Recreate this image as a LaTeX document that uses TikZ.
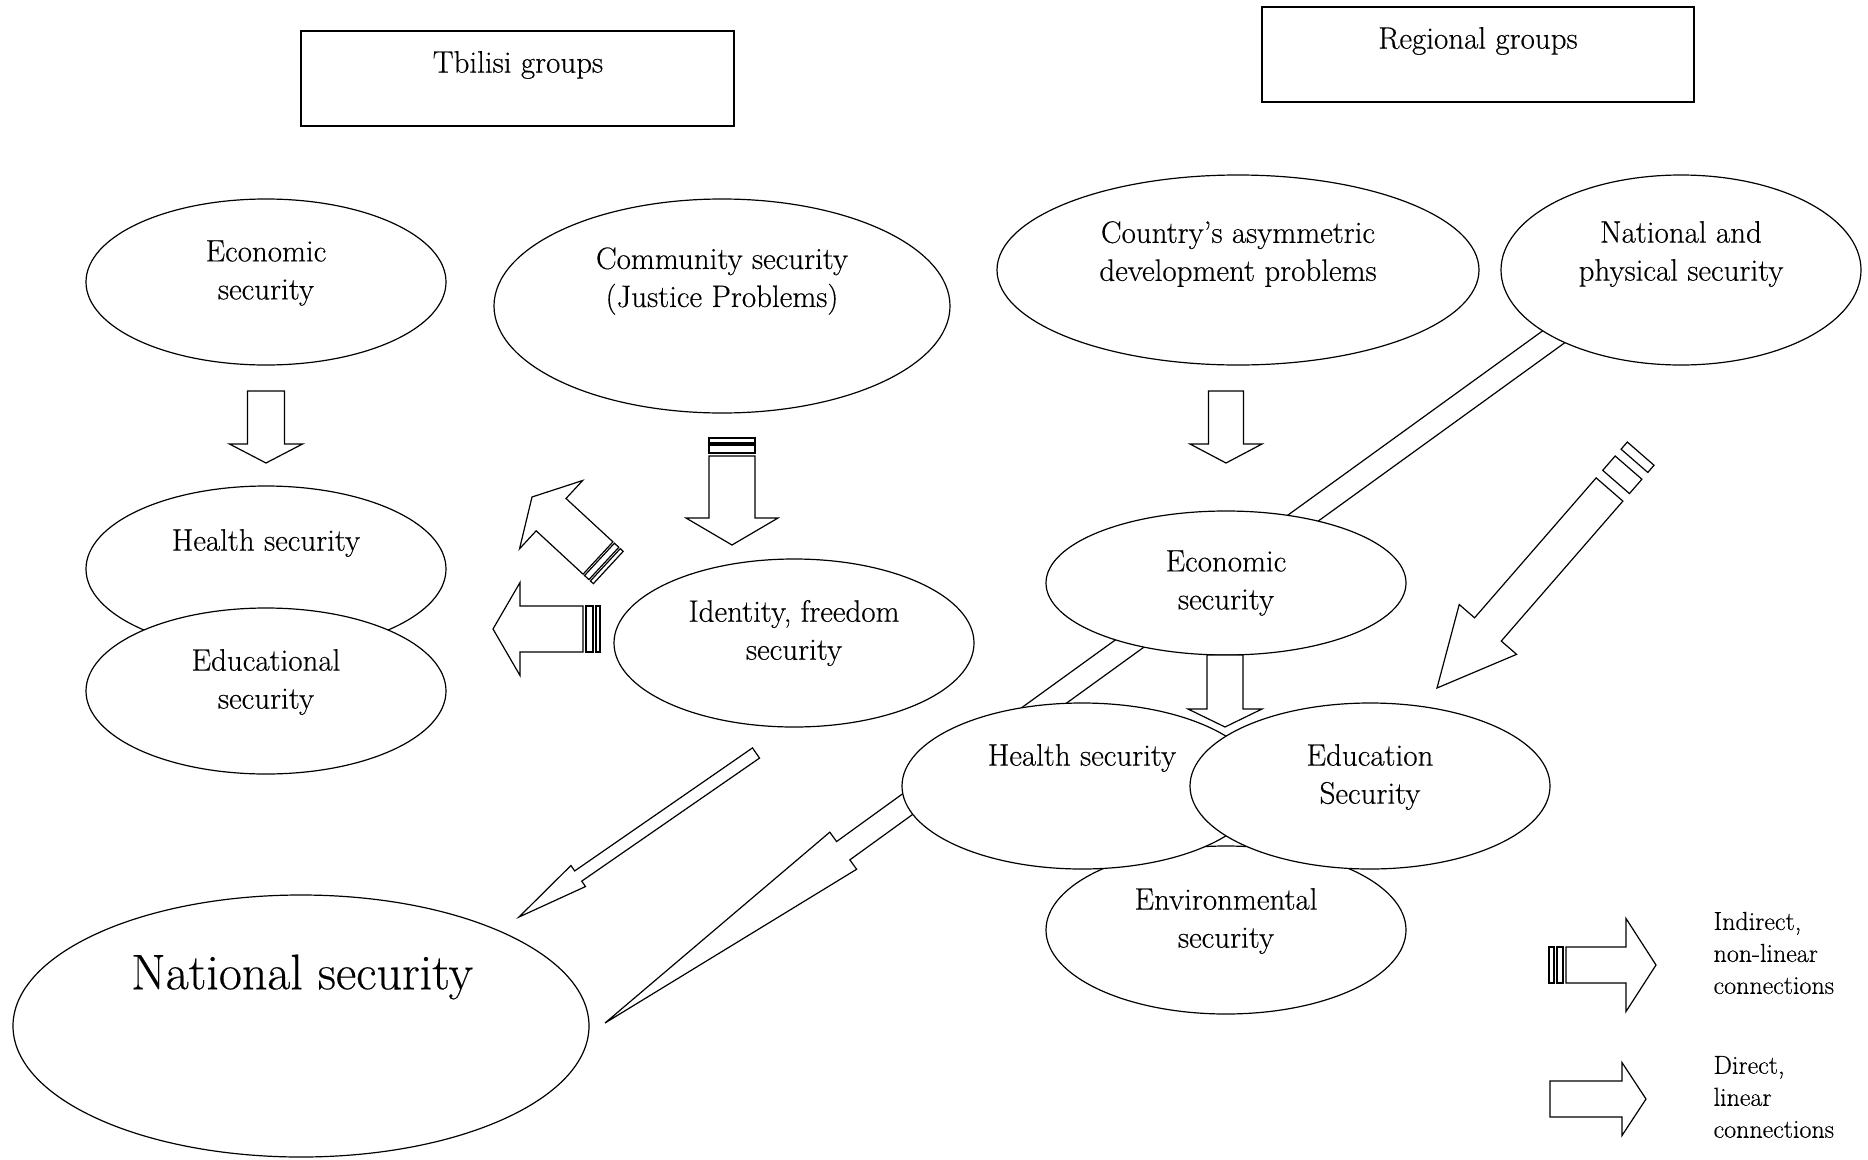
\documentclass[tikz,border=0pt]{standalone}
\usepackage{fontspec}
\setmainfont{Latin Modern Roman}[FakeBold=0.4]
\usetikzlibrary{calc,shapes.geometric}

\tikzset{
  blob/.style={draw,ellipse,fill=white,inner sep=0pt},
  grp/.style={draw,rectangle,inner sep=0pt},
  txt/.style={align=center,inner sep=0pt,font=\fontsize{31}{38}\selectfont},
  leg/.style={align=left,anchor=west,inner sep=0pt,font=\fontsize{26}{32}\selectfont},
  barr/.style={draw,fill=white,line join=miter},
}
% block arrow: tail, tip, shaft half width, head half width, head length
\newcommand{\blockarrow}[5]{%
  \path (#1) coordinate (ba-s) (#2) coordinate (ba-e);
  \path ($(ba-e)!#5!(ba-s)$) coordinate (ba-h);
  \draw[barr] ($(ba-s)!#3!90:(ba-e)$) -- ($(ba-h)!#3!-90:(ba-s)$) -- ($(ba-h)!#4!-90:(ba-s)$) -- (ba-e)
    -- ($(ba-h)!#4!90:(ba-s)$) -- ($(ba-h)!#3!90:(ba-s)$) -- ($(ba-s)!#3!-90:(ba-e)$) -- cycle;}
% stripe behind the tail: tail, tip, half width, from, to
\newcommand{\tailbar}[5]{%
  \path (#1) coordinate (tb-s) (#2) coordinate (tb-e);
  \path ($(tb-s)!-#4!(tb-e)$) coordinate (tb-a) ($(tb-s)!-#5!(tb-e)$) coordinate (tb-b);
  \draw[barr] ($(tb-a)!#3!90:(tb-e)$) -- ($(tb-b)!#3!90:(tb-e)$) -- ($(tb-b)!#3!-90:(tb-e)$)
    -- ($(tb-a)!#3!-90:(tb-e)$) -- cycle;}

\begin{document}
\begin{tikzpicture}[x=1pt,y=-1pt,line width=1.2pt]
  \useasboundingbox (0,0) rectangle (1868,1159);
  % groups
  \node[grp,minimum width=433pt,minimum height=95pt] (tbil) at (517.5,78.5) {};
  \node[txt] (tbil-t) at (518,65) {Tbilisi groups};
  \node[grp,minimum width=432pt,minimum height=95pt] (regn) at (1478,54.5) {};
  \node[txt] (regn-t) at (1478,41) {Regional groups};

  % long arrow behind the regional ellipses
  \coordinate (npS) at (1617,291); \coordinate (npE) at (605,1023);
  \blockarrow{npS}{npE}{11.3pt}{22.9pt}{294pt}

  % Tbilisi ellipses
  \node[blob,minimum width=360pt,minimum height=166pt] (ecoT) at (266,282) {};
  \node[txt] (ecoT-t) at (266,273) {Economic\\security};
  \node[blob,minimum width=456pt,minimum height=214pt] (comT) at (722,306) {};
  \node[txt] (comT-t) at (722,281) {Community security\\(Justice Problems)};
  \node[blob,minimum width=360pt,minimum height=166pt] (heaT) at (266,569) {};
  \node[txt] (heaT-t) at (266,543) {Health security};
  \node[blob,minimum width=360pt,minimum height=166pt] (eduT) at (266,691) {};
  \node[txt] (eduT-t) at (266,682) {Educational\\security};
  \node[blob,minimum width=360pt,minimum height=168pt] (idT) at (794,643) {};
  \node[txt] (idT-t) at (794,633) {Identity, freedom\\security};
  \node[blob,minimum width=576pt,minimum height=262pt] (nat) at (301,1026) {};
  \node[txt,font=\fontsize{50}{54}\selectfont] (nat-t) at (302,977) {National security};

  % regional ellipses
  \node[blob,minimum width=482pt,minimum height=190pt] (asyR) at (1238,270) {};
  \node[txt] (asyR-t) at (1238,254) {Country's asymmetric\\development problems};
  \node[blob,minimum width=360pt,minimum height=190pt] (phyR) at (1681,270) {};
  \node[txt] (phyR-t) at (1681,254) {National and\\physical security};
  \node[blob,minimum width=360pt,minimum height=144pt] (ecoR) at (1226,583) {};
  \node[txt] (ecoR-t) at (1226,583) {Economic\\security};
  \node[blob,minimum width=360pt,minimum height=168pt] (envR) at (1226,930) {};
  \node[txt] (envR-t) at (1226,921) {Environmental\\security};
  \node[blob,minimum width=360pt,minimum height=166pt] (heaR) at (1082,786) {};
  \node[txt] (heaR-t) at (1082,758) {Health security};
  \node[blob,minimum width=360pt,minimum height=166pt] (eduR) at (1370,786) {};
  \node[txt] (eduR-t) at (1370,777) {Education\\Security};

  % direct arrows
  \coordinate (a1s) at (266,391); \coordinate (a1e) at (266,463);
  \blockarrow{a1s}{a1e}{18.5pt}{36.5pt}{19pt}
  \coordinate (a2s) at (1226,391); \coordinate (a2e) at (1226,463);
  \blockarrow{a2s}{a2e}{17.5pt}{36pt}{19pt}
  \coordinate (a9s) at (1225,655); \coordinate (a9e) at (1225,727);
  \blockarrow{a9s}{a9e}{18pt}{37pt}{18pt}
  \coordinate (a6s) at (756,753); \coordinate (a6e) at (519,917);
  \blockarrow{a6s}{a6e}{6.2pt}{12.8pt}{72pt}

  % indirect arrows
  \coordinate (a3s) at (732,456); \coordinate (a3e) at (732,545);
  \blockarrow{a3s}{a3e}{23pt}{46pt}{27pt}
  \tailbar{a3s}{a3e}{23pt}{3pt}{11pt} \tailbar{a3s}{a3e}{23pt}{13pt}{18pt}
  \coordinate (a4s) at (598,558); \coordinate (a4e) at (532,497);
  \blockarrow{a4s}{a4e}{22pt}{46.5pt}{26pt}
  \tailbar{a4s}{a4e}{22pt}{2pt}{8pt} \tailbar{a4s}{a4e}{22pt}{10pt}{14pt}
  \coordinate (a5s) at (583,629); \coordinate (a5e) at (493,629);
  \blockarrow{a5s}{a5e}{23pt}{46.5pt}{27pt}
  \tailbar{a5s}{a5e}{23pt}{3pt}{10pt} \tailbar{a5s}{a5e}{23pt}{13pt}{17pt}
  \coordinate (a8s) at (1609.5,489.5); \coordinate (a8e) at (1437,688);
  \blockarrow{a8s}{a8e}{17.7pt}{38pt}{77.6pt}
  \tailbar{a8s}{a8e}{17.7pt}{10pt}{29pt} \tailbar{a8s}{a8e}{17.7pt}{38pt}{47.5pt}

  % legend
  \coordinate (l1s) at (1566,965); \coordinate (l1e) at (1656,965);
  \blockarrow{l1s}{l1e}{18pt}{46.5pt}{30pt}
  \tailbar{l1s}{l1e}{18pt}{3pt}{9pt} \tailbar{l1s}{l1e}{18pt}{12pt}{17pt}
  \node[leg] (l1-t) at (1713,953) {Indirect,\\non-linear\\connections};
  \coordinate (l2s) at (1550,1099); \coordinate (l2e) at (1646,1099);
  \blockarrow{l2s}{l2e}{18pt}{36.5pt}{24pt}
  \node[leg] (l2-t) at (1713,1097) {Direct,\\linear\\connections};
\end{tikzpicture}
\end{document}
